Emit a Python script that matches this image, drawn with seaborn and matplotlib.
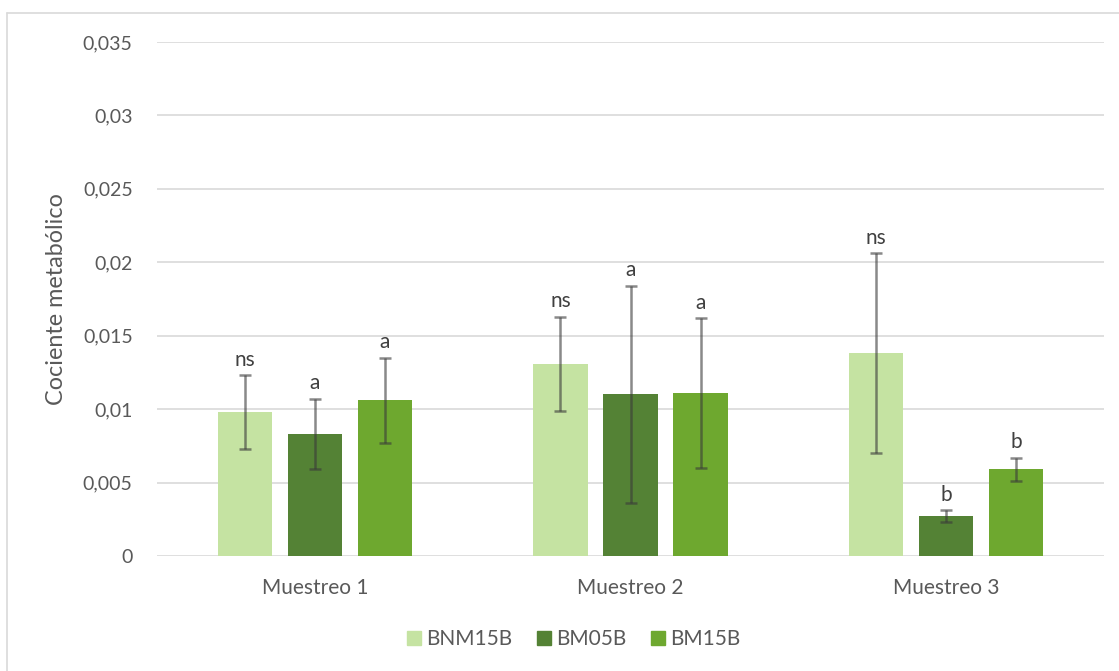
import numpy as np
import pandas as pd
import seaborn as sns
import matplotlib.pyplot as plt
from matplotlib.ticker import FuncFormatter, MultipleLocator
from matplotlib.lines import Line2D

# Sampling dates and treatments
muestreos = ["Muestreo 1", "Muestreo 2", "Muestreo 3"]
tratamientos = ["BNM15B", "BM05B", "BM15B"]

# Mean metabolic quotient per treatment
bnm15b = [0.0098, 0.0131, 0.0138]
bm05b = [0.0083, 0.0110, 0.0027]
bm15b = [0.0106, 0.0111, 0.0059]

# Error (±) per treatment
err_bnm15b = [0.0025, 0.0032, 0.0068]
err_bm05b = [0.0024, 0.0074, 0.0004]
err_bm15b = [0.0029, 0.0051, 0.0008]

# Significance letters
let_bnm15b = ["ns", "ns", "ns"]
let_bm05b = ["a", "a", "b"]
let_bm15b = ["a", "a", "b"]

colores = ["#C5E3A2", "#548235", "#6EA82F"]

rows = []
for trat, vals, errs, lets in zip(
    tratamientos,
    [bnm15b, bm05b, bm15b],
    [err_bnm15b, err_bm05b, err_bm15b],
    [let_bnm15b, let_bm05b, let_bm15b],
):
    for m, v, e, l in zip(muestreos, vals, errs, lets):
        rows.append({"Muestreo": m, "Tratamiento": trat, "valor": v, "err": e, "letra": l})
df = pd.DataFrame(rows)

sns.set_theme(style="white")
plt.rcParams["font.family"] = ["Lato", "DejaVu Sans"]
txt_color = "#595959"

fig = plt.figure(figsize=(11.19, 6.71), dpi=100)
ax = fig.add_axes([157 / 1119, 115 / 671, (1104 - 157) / 1119, (556 - 42) / 671])

sns.barplot(
    data=df, x="Muestreo", y="valor", hue="Tratamiento",
    order=muestreos, hue_order=tratamientos, palette=colores,
    width=0.666, gap=0.225, errorbar=None, saturation=1,
    linewidth=0, legend=False, ax=ax, zorder=2,
)

# Error bars and letters on top of each bar (patches are drawn hue by hue)
bars = ax.patches[: len(df)]
for bar, (_, r) in zip(bars, df.iterrows()):
    x = bar.get_x() + bar.get_width() / 2
    y = bar.get_height()
    ax.errorbar(x, y, yerr=r["err"], fmt="none", ecolor="#3a3a3a", alpha=0.6,
                elinewidth=1.8, capsize=4.3, capthick=1.8, zorder=3)
    ax.annotate(r["letra"], (x, y + r["err"]), xytext=(0, 4),
                textcoords="offset points", ha="center", va="bottom",
                fontsize=15, color="#404040")

ax.set_ylim(0, 0.035)
ax.set_xlim(-0.5, 2.5)
ax.yaxis.set_major_locator(MultipleLocator(0.005))
ax.yaxis.set_major_formatter(FuncFormatter(lambda v, p: f"{round(v, 4):g}".replace(".", ",")))
ax.grid(axis="y", color="#d9d9d9", linewidth=1.2, zorder=0)
ax.set_axisbelow(True)
for s in ax.spines.values():
    s.set_visible(False)
ax.tick_params(axis="y", length=0, pad=17.5, labelsize=14, labelcolor=txt_color)
ax.tick_params(axis="x", length=0, pad=16, labelsize=15, labelcolor=txt_color)
ax.set_xlabel("")
ax.set_ylabel("")

fig.text(57 / 1119, 1 - 299 / 671, "Cociente metabólico", rotation=90,
         ha="center", va="center", fontsize=16.8, color=txt_color)

# Legend at the bottom
handles = [Line2D([0], [0], marker="s", linestyle="none", markersize=10,
                  markerfacecolor=c, markeredgecolor=c) for c in colores]
fig.legend(handles, tratamientos, loc="center", bbox_to_anchor=(572 / 1119, 1 - 639 / 671),
           ncol=3, frameon=False, fontsize=15, labelcolor=txt_color,
           handletextpad=0.1, columnspacing=1.0, handlelength=1.0)

# Chart area border (top and left edges)
fig.add_artist(Line2D([7 / 1119, 1.0], [1 - 13 / 671, 1 - 13 / 671], color="#d9d9d9", lw=1.2))
fig.add_artist(Line2D([7 / 1119, 7 / 1119], [0, 1 - 13 / 671], color="#d9d9d9", lw=1.2))

fig.savefig("out.png", dpi=100, facecolor="white")
